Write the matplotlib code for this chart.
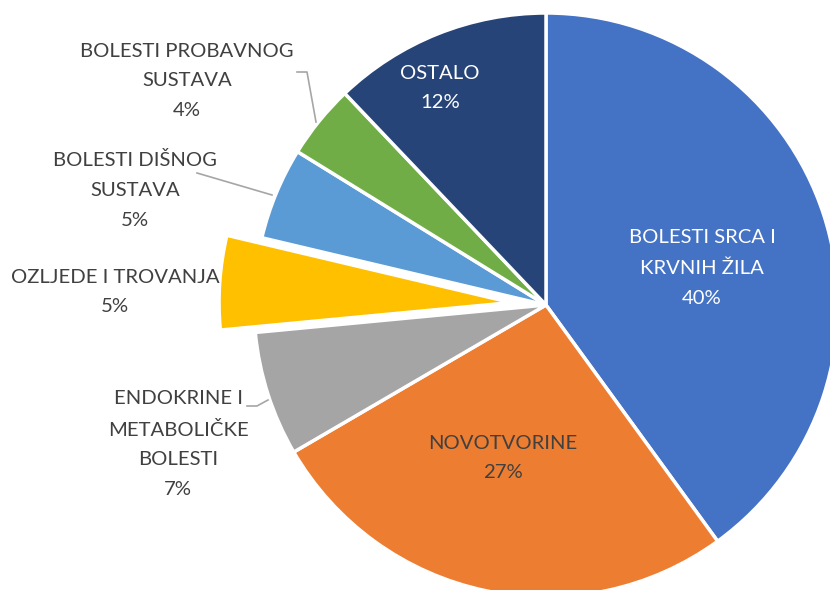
import matplotlib
matplotlib.use("Agg")
import matplotlib.pyplot as plt

categories = ["BOLESTI SRCA I\nKRVNIH ŽILA", "NOVOTVORINE", "ENDOKRINE I\nMETABOLIČKE\nBOLESTI",
              "OZLJEDE I TROVANJA", "BOLESTI DIŠNOG\nSUSTAVA", "BOLESTI PROBAVNOG\nSUSTAVA", "OSTALO"]
values = [40.0, 26.6, 6.9, 5.2, 5.1, 4.1, 12.1]
colors = ["#4472C4", "#ED7D31", "#A5A5A5", "#FFC000", "#5B9BD5", "#70AD47", "#264478"]
explode_frac = [0, 0, 0, 0.12, 0, 0, 0]

plt.rcParams['font.family'] = ['Lato', 'DejaVu Sans']

W, H = 830, 590
fig = plt.figure(figsize=(W / 100, H / 100), dpi=100)
ax = fig.add_axes([0, 0, 1, 1])

cx, cy, R = 546, H - 305, 292
ax.pie(values, colors=colors, explode=[e * R for e in explode_frac], startangle=90,
       counterclock=False, center=(cx, cy), radius=R, frame=True,
       wedgeprops=dict(edgecolor='white', linewidth=2.5))
ax.set_xlim(0, W)
ax.set_ylim(0, H)
ax.set_aspect('equal')
ax.axis('off')

total = sum(values)
pcts = [f"{round(v / total * 100)}%" for v in values]

# label layout (pixel positions from top-left), text colours
label_pos = [(702, 268), (503, 458), (178, 444), (115, 292), (135, 190), (187, 81), (440, 88)]
label_col = ["white", "#404040", "#404040", "#404040", "#404040", "#404040", "white"]
for cat, p, (x, y), c in zip(categories, pcts, label_pos, label_col):
    ax.text(x, H - y, f"{cat}\n{p}", ha='center', va='center', color=c,
            fontsize=14.6, linespacing=1.9)

# leader lines
leaders = [
    [(297, 72), (307, 72), (316, 122)],
    [(197, 173), (272, 195)],
    [(247, 406), (257, 406), (268, 400)],
]
for pts in leaders:
    xs = [p[0] for p in pts]
    ys = [H - p[1] for p in pts]
    ax.plot(xs, ys, color='#A6A6A6', lw=1.2)

fig.savefig("out.png", dpi=100)
